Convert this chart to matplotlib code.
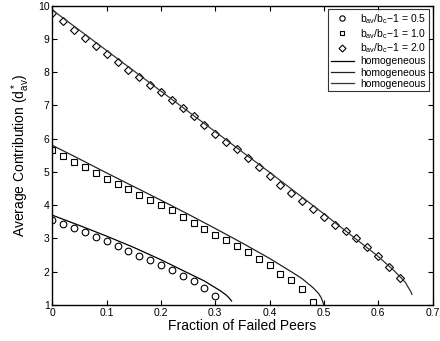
import numpy as np
import matplotlib
matplotlib.use('Agg')
import matplotlib.pyplot as plt

plt.rcParams['font.family'] = ['Liberation Sans', 'DejaVu Sans']
plt.rcParams['mathtext.fontset'] = 'custom'
plt.rcParams['mathtext.rm'] = 'Liberation Sans'
plt.rcParams['mathtext.it'] = 'Liberation Sans'

# simulation points (every 0.02 of failed peers)
x_c = [0, 0.02, 0.04, 0.06, 0.08, 0.10, 0.12, 0.14, 0.16, 0.18, 0.20, 0.22,
       0.24, 0.26, 0.28, 0.30]
y_c = [3.57, 3.45, 3.32, 3.18, 3.04, 2.91, 2.77, 2.63, 2.48, 2.34, 2.20, 2.04,
       1.87, 1.71, 1.52, 1.28]

x_s = [0, 0.02, 0.04, 0.06, 0.08, 0.10, 0.12, 0.14, 0.16, 0.18, 0.20, 0.22,
       0.24, 0.26, 0.28, 0.30, 0.32, 0.34, 0.36, 0.38, 0.40, 0.42, 0.44, 0.46,
       0.48]
y_s = [5.65, 5.48, 5.30, 5.15, 4.97, 4.80, 4.64, 4.48, 4.32, 4.17, 4.02, 3.85,
       3.66, 3.48, 3.28, 3.10, 2.94, 2.77, 2.58, 2.38, 2.19, 1.94, 1.76, 1.49,
       1.08]

x_d = [0, 0.02, 0.04, 0.06, 0.08, 0.10, 0.12, 0.14, 0.16, 0.18, 0.20, 0.22,
       0.24, 0.26, 0.28, 0.30, 0.32, 0.34, 0.36, 0.38, 0.40, 0.42, 0.44, 0.46,
       0.48, 0.50, 0.52, 0.54, 0.56, 0.58, 0.60, 0.62, 0.64]
y_d = [9.78, 9.53, 9.26, 9.03, 8.79, 8.55, 8.30, 8.07, 7.85, 7.62, 7.40, 7.16,
       6.92, 6.67, 6.40, 6.14, 5.90, 5.68, 5.42, 5.14, 4.87, 4.60, 4.38, 4.13,
       3.90, 3.64, 3.40, 3.22, 3.00, 2.73, 2.48, 2.13, 1.81]

# homogeneous model curves
hx_c = [0, 0.05, 0.10, 0.15, 0.20, 0.25, 0.28, 0.30, 0.31, 0.32, 0.325, 0.33]
hy_c = [3.70, 3.39, 3.07, 2.73, 2.36, 1.96, 1.72, 1.52, 1.42, 1.30, 1.22, 1.12]

hx_s = [0, 0.05, 0.10, 0.15, 0.20, 0.25, 0.30, 0.35, 0.40, 0.44, 0.46, 0.48,
        0.49, 0.495, 0.50]
hy_s = [5.80, 5.39, 4.97, 4.56, 4.15, 3.73, 3.30, 2.86, 2.40, 2.00, 1.79, 1.52,
        1.35, 1.22, 1.00]

hx_d = [0, 0.10, 0.20, 0.30, 0.40, 0.50, 0.55, 0.60, 0.63, 0.65, 0.66, 0.662]
hy_d = [9.87, 8.65, 7.43, 6.21, 4.99, 3.74, 3.10, 2.46, 2.02, 1.68, 1.40, 1.32]

labels = [r'b$_{av}$/b$_c$$-$1 = 0.5', r'b$_{av}$/b$_c$$-$1 = 1.0',
          r'b$_{av}$/b$_c$$-$1 = 2.0', 'homogeneous', 'homogeneous',
          'homogeneous']

fig = plt.figure(figsize=(4.4, 3.41), dpi=100)
ax = fig.add_axes([0.119, 0.1056, 0.864, 0.8777])

ax.plot(x_c, y_c, 'o', mfc='none', mec='k', ms=4.8, mew=0.8)
ax.plot(x_s, y_s, 's', mfc='none', mec='k', ms=4.0, mew=0.8)
ax.plot(x_d, y_d, 'D', mfc='none', mec='k', ms=4.4, mew=0.8)
ax.plot(hx_c, hy_c, '-', color='k', lw=0.9)
ax.plot(hx_s, hy_s, '-', color='#222222', lw=0.9)
ax.plot(hx_d, hy_d, '-', color='#333333', lw=0.9)

ax.set_xlim(0, 0.7)
ax.set_ylim(1, 10)
ax.set_xticks([0, 0.1, 0.2, 0.3, 0.4, 0.5, 0.6, 0.7])
ax.set_xticklabels(['0', '0.1', '0.2', '0.3', '0.4', '0.5', '0.6', '0.7'])
ax.set_yticks(range(1, 11))
ax.tick_params(direction='in', top=True, right=True, length=3.5, width=0.8,
               labelsize=7.5, pad=2)
for s in ax.spines.values():
    s.set_linewidth(1.0)

ax.set_xlabel('Fraction of Failed Peers', fontsize=10, labelpad=1)
ax.set_ylabel(r'Average Contribution (d$^*_{av}$)', fontsize=10, labelpad=4)

leg = ax.legend(labels, loc='upper right', fontsize=7.5, frameon=True,
                fancybox=False, edgecolor='k', handlelength=2.2,
                labelspacing=0.1, borderaxespad=0.35, borderpad=0.25,
                handletextpad=0.6, markerscale=0.8)
leg.get_frame().set_linewidth(0.8)

plt.savefig('out.png', dpi=100)
